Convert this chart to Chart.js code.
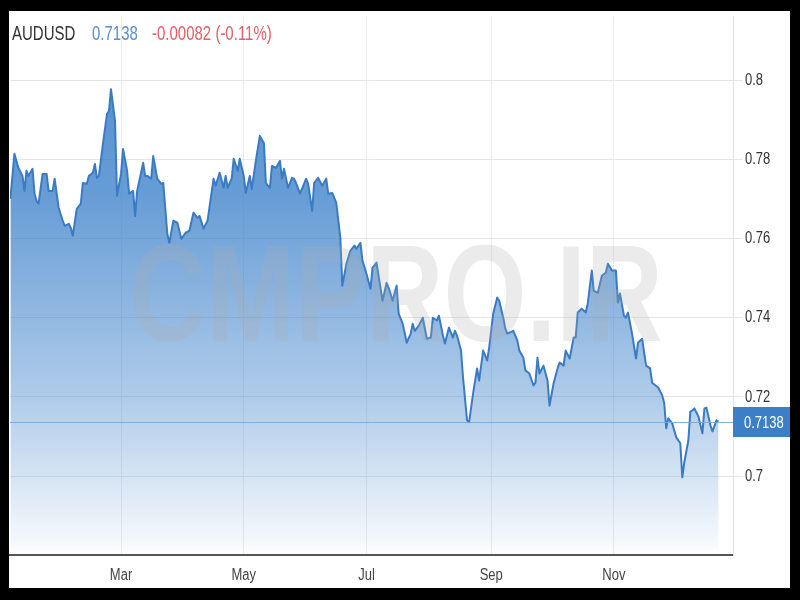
<!DOCTYPE html>
<html><head><meta charset="utf-8">
<script src="https://cdn.jsdelivr.net/npm/chart.js@4.4.1/dist/chart.umd.min.js"></script>
<style>
html,body{margin:0;padding:0;background:#000;width:800px;height:600px;overflow:hidden}
#wrap{position:absolute;left:9px;top:11px;width:781px;height:577px;background:#fff}
canvas{position:absolute;left:0;top:0}
.t{position:absolute;top:12px;display:inline-block;font-size:15px;line-height:15px;font-family:'Liberation Sans',Arial,sans-serif;white-space:pre;z-index:2;transform:scaleY(1.3);transform-origin:0 0}
</style></head>
<body>
<div id="wrap">
<canvas id="c" width="781" height="577"></canvas>
<span class="t" id="sym" style="left:3px;color:#333"></span>
<span class="t" id="px" style="left:83px;color:#5a8fc8"></span>
<span class="t" id="chg" style="left:143px;color:#e0606a"></span>
</div>
<script>
// ---- data ----
const symbol = 'AUDUSD';
const lastPriceText = '0.7138';
const changeText = '-0.00082 (-0.11%)';
const watermark = 'CMPRO.IR';
// day of year (Jan 1 = 0)
const days = [4,6,8,10,11,12,13,15,16,17,18,20,22,23,25,26,28,30,31,33,34,35,37,39,40,42,43,45,46,47,48,50,52,53,54,56,57,59,60,62,63,65,66,67,70,71,72,74,75,77,79,80,82,83,85,87,89,91,93,95,97,98,100,102,105,106,108,110,111,112,114,115,117,118,120,121,123,124,126,128,130,131,133,134,136,138,139,140,142,144,145,146,148,151,152,154,155,157,159,161,162,164,166,168,169,171,173,175,176,178,179,181,183,184,186,187,189,191,192,194,196,197,199,201,203,204,205,207,209,211,213,214,216,217,219,220,222,224,225,226,228,229,231,232,234,236,237,239,241,242,244,246,247,249,250,251,254,256,257,259,260,262,264,265,266,267,269,271,272,274,276,277,279,280,282,284,285,286,288,290,291,293,294,296,298,300,301,303,305,306,307,309,310,311,313,315,316,318,320,322,323,326,328,329,330,331,333,335,337,338,339,341,342,343,344,346,348,349,350,352,353,355,356];
const prices = [0.7700,0.7814,0.7778,0.7758,0.7720,0.7771,0.7758,0.7776,0.7713,0.7695,
0.7688,0.7763,0.7763,0.7720,0.7720,0.7751,0.7677,0.7645,0.7632,0.7637,
0.7627,0.7607,0.7675,0.7688,0.7740,0.7738,0.7758,0.7766,0.7788,0.7753,
0.7758,0.7839,0.7914,0.7922,0.7977,0.7897,0.7708,0.7763,0.7826,0.7771,
0.7713,0.7720,0.7657,0.7720,0.7791,0.7758,0.7758,0.7751,0.7808,0.7751,
0.7738,0.7740,0.7612,0.7589,0.7645,0.7640,0.7599,0.7614,0.7620,0.7665,
0.7652,0.7657,0.7625,0.7645,0.7751,0.7733,0.7766,0.7728,0.7758,0.7728,
0.7751,0.7801,0.7771,0.7801,0.7758,0.7715,0.7758,0.7725,0.7796,0.7859,
0.7841,0.7740,0.7728,0.7783,0.7778,0.7796,0.7751,0.7776,0.7728,0.7753,
0.7751,0.7740,0.7713,0.7751,0.7738,0.7670,0.7740,0.7753,0.7733,0.7751,
0.7713,0.7715,0.7690,0.7602,0.7481,0.7536,0.7569,0.7582,0.7574,0.7589,
0.7544,0.7511,0.7473,0.7526,0.7539,0.7506,0.7443,0.7488,0.7476,0.7443,
0.7481,0.7410,0.7385,0.7337,0.7360,0.7385,0.7367,0.7380,0.7400,0.7347,
0.7350,0.7400,0.7393,0.7405,0.7355,0.7335,0.7375,0.7350,0.7367,0.7355,
0.7317,0.7249,0.7141,0.7136,0.7209,0.7272,0.7241,0.7317,0.7292,0.7325,
0.7410,0.7451,0.7443,0.7400,0.7373,0.7360,0.7367,0.7342,0.7317,0.7299,
0.7267,0.7259,0.7229,0.7236,0.7299,0.7259,0.7279,0.7241,0.7178,0.7234,
0.7272,0.7287,0.7279,0.7317,0.7297,0.7350,0.7350,0.7413,0.7423,0.7413,
0.7436,0.7519,0.7468,0.7463,0.7506,0.7514,0.7536,0.7519,0.7519,0.7438,
0.7461,0.7405,0.7400,0.7413,0.7360,0.7297,0.7337,0.7347,0.7279,0.7272,
0.7236,0.7224,0.7204,0.7184,0.7121,0.7146,0.7133,0.7098,0.7083,0.6997,
0.7035,0.7090,0.7163,0.7166,0.7171,0.7151,0.7108,0.7171,0.7173,0.7128,
0.7113,0.7141,0.7138];
const monthTickDays = [59,120,181,243,304];
const monthTickLabels = ['Mar','May','Jul','Sep','Nov'];
const yTicks = [0.7,0.72,0.74,0.76,0.78,0.8];
const lastPrice = 0.7138;

document.getElementById('sym').textContent = symbol;
document.getElementById('px').textContent = lastPriceText;
document.getElementById('chg').textContent = changeText;

const FONT = "'Liberation Sans',Arial,sans-serif";
const points = days.map((d,i)=>({x:d,y:prices[i]}));

// narrow/tall text look: stretch canvas text vertically around its anchor
const canvas = document.getElementById('c');
const c2d = canvas.getContext('2d');
const origFillText = c2d.fillText.bind(c2d);
c2d.fillText = function(text, x, y, maxW){
  this.save();
  this.translate(x, y);
  this.scale(1, 1.28);
  if (maxW === undefined) origFillText(text, 0, 0); else origFillText(text, 0, 0, maxW);
  this.restore();
};

const overlay = {
  id:'overlay',
  afterDatasetsDraw(chart){
    const {ctx, chartArea:a, scales:{y}} = chart;
    const yp = Math.round(y.getPixelForValue(lastPrice));
    ctx.save();
    ctx.font = 'bold 138px ' + FONT;
    ctx.fillStyle = 'rgba(170,170,170,0.24)';
    ctx.textAlign = 'center';
    ctx.textBaseline = 'alphabetic';
    origFillText(watermark, 387, 330, 534);
    ctx.strokeStyle = 'rgba(120,170,222,0.9)';
    ctx.lineWidth = 1;
    ctx.beginPath(); ctx.moveTo(a.left, yp+0.5); ctx.lineTo(a.right, yp+0.5); ctx.stroke();
    ctx.fillStyle = '#3b7fc8';
    ctx.fillRect(a.right, yp-15, chart.width - a.right, 30);
    ctx.fillStyle = '#fff';
    ctx.font = '13px ' + FONT;
    ctx.textAlign = 'left';
    ctx.textBaseline = 'middle';
    ctx.fillText(lastPriceText, a.right + 11, yp + 1);
    ctx.restore();
  }
};

new Chart(canvas, {
  type:'line',
  data:{datasets:[{
    data: points,
    borderColor:'#3a7bc4',
    borderWidth:2,
    pointRadius:0,
    tension:0,
    borderJoinStyle:'round',
    fill:'start',
    backgroundColor:(ctx)=>{
      const a = ctx.chart.chartArea;
      if(!a) return 'rgba(66,133,204,0.5)';
      const g = ctx.chart.ctx.createLinearGradient(0,a.top,0,a.bottom);
      g.addColorStop(0,'rgba(66,133,204,0.95)');
      g.addColorStop(0.34,'rgba(66,133,204,0.80)');
      g.addColorStop(0.71,'rgba(66,133,204,0.42)');
      g.addColorStop(0.98,'rgba(66,133,204,0.05)');
      g.addColorStop(1,'rgba(66,133,204,0.0)');
      return g;
    }
  }]},
  plugins:[overlay],
  options:{
    responsive:false,
    animation:false,
    layout:{padding:{left:1,top:4,right:0,bottom:0}},
    plugins:{legend:{display:false},tooltip:{enabled:false},title:{display:false}},
    scales:{
      x:{
        type:'linear', min:3.8, max:363.2,
        afterBuildTicks:s=>{ s.ticks = monthTickDays.map(v=>({value:v})); },
        afterFit:s=>{ s.height = 33; },
        grid:{color:'#ececec', drawTicks:false},
        border:{display:true,color:'#555',width:2},
        ticks:{autoSkip:false,maxRotation:0,padding:13,color:'#444',font:{family:FONT,size:13},
          callback:(v)=>{ const i = monthTickDays.indexOf(v); return i>=0 ? monthTickLabels[i] : ''; }}
      },
      y:{
        position:'right', min:0.6801, max:0.8161,
        afterBuildTicks:s=>{ s.ticks = yTicks.map(v=>({value:v})); },
        afterFit:s=>{ s.width = 57; },
        grid:{color:'#e6e6e6', tickLength:10},
        border:{display:true,color:'#e2e2e2',width:1},
        ticks:{padding:2,color:'#333',font:{family:FONT,size:13,lineHeight:0.5},
          callback:(v)=>String(v)}
      }
    }
  }
});
</script>
</body></html>
